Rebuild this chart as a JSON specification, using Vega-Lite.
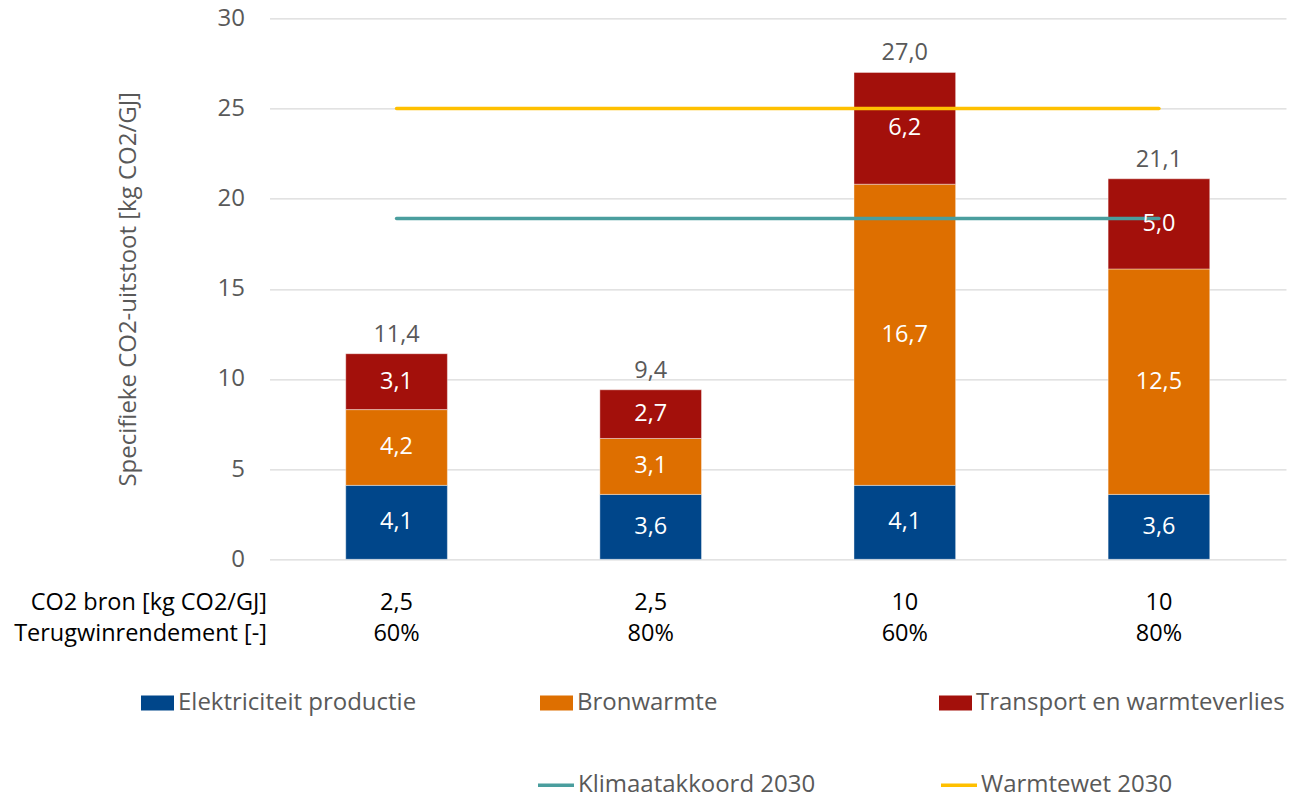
{
  "$schema": "https://vega.github.io/schema/vega-lite/v6.json",
  "width": 1016.5,
  "height": 541,
  "autosize": {"type": "none"},
  "padding": {"left": 269.5, "top": 18.3, "right": 16, "bottom": 240},
  "background": "white",
  "config": {
    "locale": {"number": {"decimal": ",", "thousands": ".", "grouping": [3], "currency": ["€", ""]}},
    "font": "Open Sans",
    "view": {"stroke": null}
  },
  "datasets": {
    "bars": [
      {"scenario": "2,5|60%", "series": "Elektriciteit productie", "ord": 1, "value": 4.1},
      {"scenario": "2,5|60%", "series": "Bronwarmte", "ord": 2, "value": 4.2},
      {"scenario": "2,5|60%", "series": "Transport en warmteverlies", "ord": 3, "value": 3.1},
      {"scenario": "2,5|80%", "series": "Elektriciteit productie", "ord": 1, "value": 3.6},
      {"scenario": "2,5|80%", "series": "Bronwarmte", "ord": 2, "value": 3.1},
      {"scenario": "2,5|80%", "series": "Transport en warmteverlies", "ord": 3, "value": 2.7},
      {"scenario": "10|60%", "series": "Elektriciteit productie", "ord": 1, "value": 4.1},
      {"scenario": "10|60%", "series": "Bronwarmte", "ord": 2, "value": 16.7},
      {"scenario": "10|60%", "series": "Transport en warmteverlies", "ord": 3, "value": 6.2},
      {"scenario": "10|80%", "series": "Elektriciteit productie", "ord": 1, "value": 3.6},
      {"scenario": "10|80%", "series": "Bronwarmte", "ord": 2, "value": 12.5},
      {"scenario": "10|80%", "series": "Transport en warmteverlies", "ord": 3, "value": 5.0}
    ],
    "totals": [
      {"scenario": "2,5|60%", "total": 11.4},
      {"scenario": "2,5|80%", "total": 9.4},
      {"scenario": "10|60%", "total": 27.0},
      {"scenario": "10|80%", "total": 21.1}
    ],
    "lines": [
      {"scenario": "2,5|60%", "series": "Klimaatakkoord 2030", "value": 18.9},
      {"scenario": "2,5|80%", "series": "Klimaatakkoord 2030", "value": 18.9},
      {"scenario": "10|60%", "series": "Klimaatakkoord 2030", "value": 18.9},
      {"scenario": "10|80%", "series": "Klimaatakkoord 2030", "value": 18.9},
      {"scenario": "2,5|60%", "series": "Warmtewet 2030", "value": 25.0},
      {"scenario": "2,5|80%", "series": "Warmtewet 2030", "value": 25.0},
      {"scenario": "10|60%", "series": "Warmtewet 2030", "value": 25.0},
      {"scenario": "10|80%", "series": "Warmtewet 2030", "value": 25.0}
    ]
  },
  "encoding": {
    "x": {
      "field": "scenario",
      "type": "nominal",
      "sort": ["2,5|60%", "2,5|80%", "10|60%", "10|80%"],
      "scale": {"paddingInner": 0.6, "paddingOuter": 0.3},
      "axis": {
        "labelExpr": "split(datum.value, '|')",
        "labelAngle": 0,
        "labelFontSize": 23.5,
        "labelColor": "#000000",
        "labelLineHeight": 31,
        "labelBaseline": "top",
        "labelPadding": 31,
        "domain": false,
        "ticks": false,
        "grid": false,
        "title": ["CO2 bron [kg CO2/GJ]", "Terugwinrendement [-]"],
        "titleFontSize": 23.5,
        "titleFontWeight": "normal",
        "titleColor": "#000000",
        "titleAlign": "right",
        "titleBaseline": "top",
        "titleLineHeight": 31,
        "titleX": -3,
        "titleY": 31
      }
    }
  },
  "layer": [
    {
      "data": {"name": "bars"},
      "transform": [
        {"stack": "value", "groupby": ["scenario"], "sort": [{"field": "ord", "order": "ascending"}], "as": ["y0", "y1"]}
      ],
      "mark": {"type": "bar", "stroke": "white", "strokeWidth": 0.8, "strokeOpacity": 0.5},
      "encoding": {
        "y": {
          "field": "y0",
          "type": "quantitative",
          "scale": {"domain": [0, 30]},
          "axis": {
            "values": [0, 5, 10, 15, 20, 25, 30],
            "grid": true,
            "gridColor": "#d9d9d9",
            "gridWidth": 1.2,
            "domain": false,
            "ticks": false,
            "labelFontSize": 24,
            "labelColor": "#595959",
            "labelPadding": 25,
            "title": "Specifieke CO2-uitstoot [kg CO2/GJ]",
            "titleFontSize": 24,
            "titleFontWeight": "normal",
            "titleColor": "#595959",
            "titlePadding": 77
          }
        },
        "y2": {"field": "y1"},
        "color": {
          "field": "series",
          "type": "nominal",
          "scale": {
            "domain": ["Elektriciteit productie", "Bronwarmte", "Transport en warmteverlies"],
            "range": ["#00468A", "#DE6F00", "#A3100B"]
          },
          "legend": {
            "title": null,
            "orient": "none",
            "legendX": -128.5,
            "legendY": 668,
            "direction": "horizontal",
            "columns": 3,
            "gridAlign": "all",
            "columnPadding": 53,
            "labelFontSize": 24,
            "labelColor": "#595959",
            "labelLimit": 500,
            "labelOffset": 4,
            "symbolType": "M-1,-0.4545H1V0.4545H-1Z",
            "symbolSize": 1089,
            "symbolStrokeWidth": 0,
            "symbolOpacity": 1
          }
        }
      }
    },
    {
      "data": {"name": "lines"},
      "mark": {"type": "line", "strokeWidth": 3.5, "strokeCap": "round"},
      "encoding": {
        "y": {"field": "value", "type": "quantitative"},
        "stroke": {
          "field": "series",
          "type": "nominal",
          "scale": {
            "domain": ["Klimaatakkoord 2030", "Warmtewet 2030"],
            "range": ["#4A9E9E", "#FFC000"]
          },
          "legend": {
            "title": null,
            "orient": "none",
            "legendX": 266.5,
            "legendY": 747,
            "direction": "horizontal",
            "columns": 2,
            "gridAlign": "all",
            "columnPadding": 118,
            "labelFontSize": 24,
            "labelColor": "#595959",
            "labelLimit": 500,
            "labelOffset": 2,
            "symbolType": "stroke",
            "symbolSize": 1296,
            "symbolStrokeWidth": 3.5
          }
        }
      }
    },
    {
      "data": {"name": "bars"},
      "transform": [
        {"stack": "value", "groupby": ["scenario"], "sort": [{"field": "ord", "order": "ascending"}], "as": ["y0", "y1"]},
        {"calculate": "(datum.y0 + datum.y1) / 2", "as": "mid"}
      ],
      "mark": {"type": "text", "fontSize": 23.5, "fill": "white", "baseline": "middle", "align": "center"},
      "encoding": {
        "y": {"field": "mid", "type": "quantitative"},
        "text": {"field": "value", "type": "quantitative", "format": ".1f"}
      }
    },
    {
      "data": {"name": "totals"},
      "mark": {"type": "text", "fontSize": 23.5, "fill": "#595959", "baseline": "bottom", "align": "center", "dy": -7},
      "encoding": {
        "y": {"field": "total", "type": "quantitative"},
        "text": {"field": "total", "type": "quantitative", "format": ".1f"}
      }
    }
  ]
}
